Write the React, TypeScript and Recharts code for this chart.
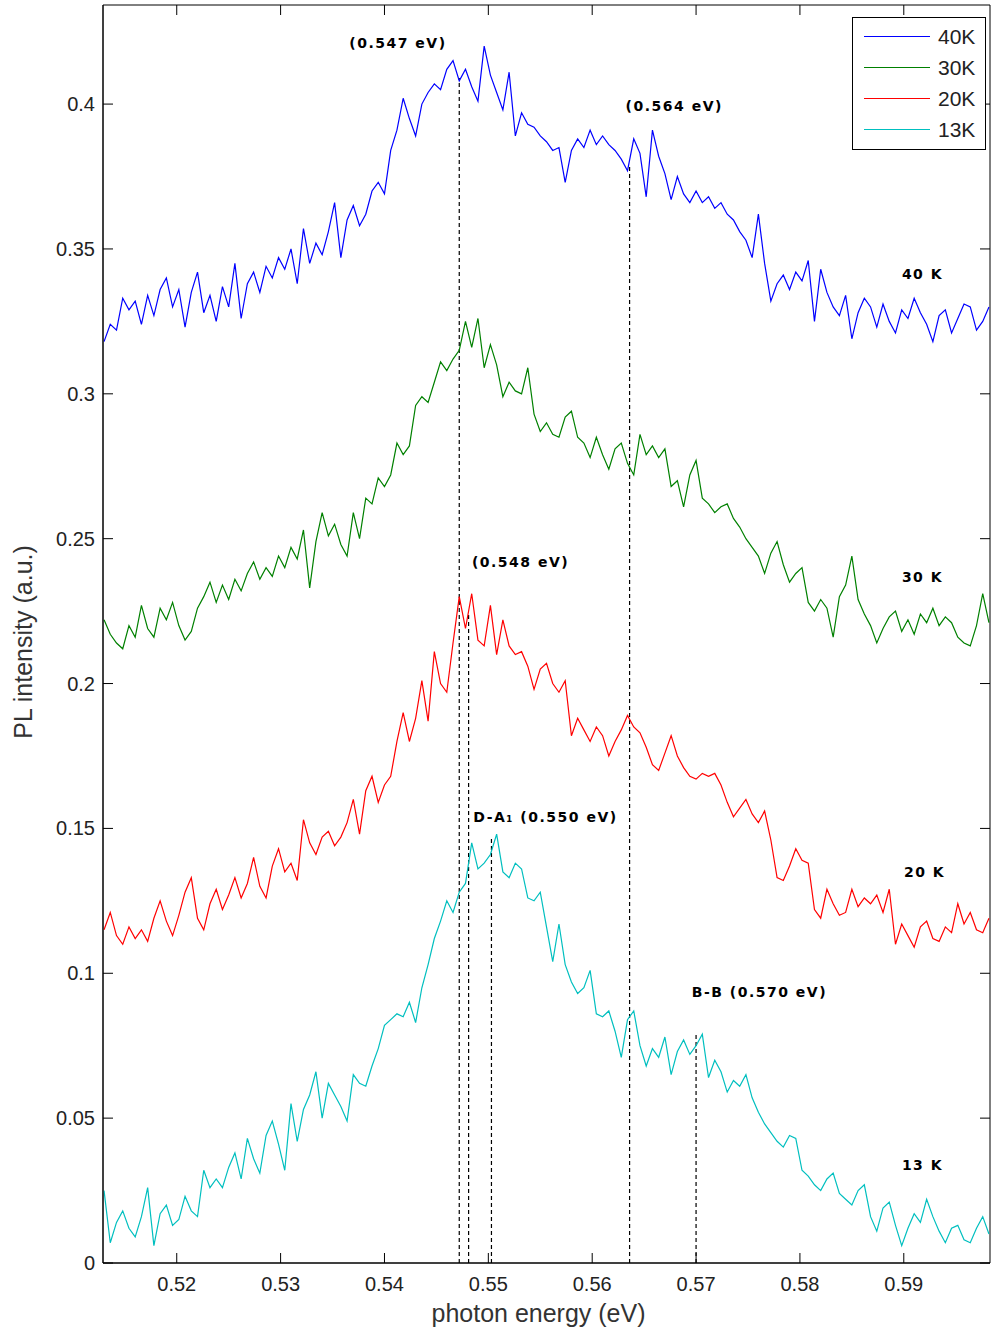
import React from 'react';
import { LineChart, Line, XAxis, YAxis, ReferenceLine, ReferenceArea, ReferenceDot, Legend, Label } from 'recharts';

// photon energy grid (eV)
const ENERGY = [
  0.5130, 0.5136, 0.5142, 0.5148, 0.5154, 0.5160, 0.5166, 0.5172, 0.5178, 0.5184,
  0.5190, 0.5196, 0.5202, 0.5208, 0.5214, 0.5220, 0.5226, 0.5232, 0.5238, 0.5244,
  0.5250, 0.5256, 0.5262, 0.5268, 0.5274, 0.5280, 0.5286, 0.5292, 0.5298, 0.5304,
  0.5310, 0.5316, 0.5322, 0.5328, 0.5334, 0.5340, 0.5346, 0.5352, 0.5358, 0.5364,
  0.5370, 0.5376, 0.5382, 0.5388, 0.5394, 0.5400, 0.5406, 0.5412, 0.5418, 0.5424,
  0.5430, 0.5436, 0.5442, 0.5448, 0.5454, 0.5460, 0.5466, 0.5472, 0.5478, 0.5484,
  0.5490, 0.5496, 0.5502, 0.5508, 0.5514, 0.5520, 0.5526, 0.5532, 0.5538, 0.5544,
  0.5550, 0.5556, 0.5562, 0.5568, 0.5574, 0.5580, 0.5586, 0.5592, 0.5598, 0.5604,
  0.5610, 0.5616, 0.5622, 0.5628, 0.5634, 0.5640, 0.5646, 0.5652, 0.5658, 0.5664,
  0.5670, 0.5676, 0.5682, 0.5688, 0.5694, 0.5700, 0.5706, 0.5712, 0.5718, 0.5724,
  0.5730, 0.5736, 0.5742, 0.5748, 0.5754, 0.5760, 0.5766, 0.5772, 0.5778, 0.5784,
  0.5790, 0.5796, 0.5802, 0.5808, 0.5814, 0.5820, 0.5826, 0.5832, 0.5838, 0.5844,
  0.5850, 0.5856, 0.5862, 0.5868, 0.5874, 0.5880, 0.5886, 0.5892, 0.5898, 0.5904,
  0.5910, 0.5916, 0.5922, 0.5928, 0.5934, 0.5940, 0.5946, 0.5952, 0.5958, 0.5964,
  0.5970, 0.5976, 0.5982,
];

const PL_40K = [
  0.318, 0.324, 0.322, 0.333, 0.329, 0.332, 0.324, 0.334, 0.327, 0.336,
  0.340, 0.330, 0.336, 0.323, 0.335, 0.342, 0.328, 0.334, 0.325, 0.337,
  0.330, 0.345, 0.326, 0.338, 0.342, 0.335, 0.344, 0.340, 0.347, 0.343,
  0.350, 0.338, 0.357, 0.345, 0.352, 0.348, 0.356, 0.366, 0.347, 0.360,
  0.365, 0.358, 0.362, 0.370, 0.373, 0.369, 0.384, 0.391, 0.402, 0.395,
  0.389, 0.400, 0.404, 0.407, 0.405, 0.412, 0.415, 0.408, 0.412, 0.406,
  0.401, 0.420, 0.410, 0.404, 0.398, 0.411, 0.389, 0.397, 0.393, 0.392,
  0.389, 0.387, 0.384, 0.385, 0.373, 0.384, 0.388, 0.385, 0.391, 0.386,
  0.389, 0.386, 0.384, 0.381, 0.377, 0.388, 0.383, 0.368, 0.391, 0.382,
  0.376, 0.367, 0.375, 0.369, 0.366, 0.370, 0.366, 0.368, 0.364, 0.366,
  0.362, 0.360, 0.356, 0.353, 0.347, 0.362, 0.345, 0.332, 0.338, 0.341,
  0.336, 0.342, 0.339, 0.346, 0.325, 0.343, 0.335, 0.330, 0.327, 0.334,
  0.319, 0.328, 0.333, 0.330, 0.323, 0.331, 0.325, 0.321, 0.329, 0.326,
  0.333, 0.328, 0.324, 0.318, 0.327, 0.329, 0.321, 0.326, 0.331, 0.330,
  0.322, 0.325, 0.330,
];

const PL_30K = [
  0.222, 0.217, 0.214, 0.212, 0.220, 0.216, 0.227, 0.219, 0.216, 0.226,
  0.222, 0.228, 0.220, 0.215, 0.218, 0.226, 0.230, 0.235, 0.228, 0.234,
  0.229, 0.236, 0.232, 0.238, 0.242, 0.236, 0.240, 0.237, 0.244, 0.240,
  0.247, 0.243, 0.253, 0.233, 0.249, 0.259, 0.251, 0.255, 0.248, 0.244,
  0.259, 0.250, 0.264, 0.262, 0.271, 0.268, 0.272, 0.283, 0.279, 0.282,
  0.296, 0.299, 0.297, 0.304, 0.311, 0.308, 0.312, 0.315, 0.325, 0.316,
  0.326, 0.309, 0.317, 0.310, 0.299, 0.304, 0.301, 0.300, 0.309, 0.293,
  0.287, 0.290, 0.286, 0.285, 0.292, 0.294, 0.285, 0.283, 0.278, 0.285,
  0.279, 0.274, 0.281, 0.283, 0.276, 0.272, 0.286, 0.279, 0.282, 0.278,
  0.281, 0.268, 0.270, 0.261, 0.272, 0.277, 0.264, 0.262, 0.259, 0.261,
  0.262, 0.257, 0.254, 0.250, 0.247, 0.244, 0.238, 0.245, 0.249, 0.241,
  0.235, 0.238, 0.240, 0.228, 0.225, 0.229, 0.226, 0.216, 0.230, 0.234,
  0.244, 0.229, 0.224, 0.220, 0.214, 0.219, 0.223, 0.225, 0.218, 0.222,
  0.217, 0.224, 0.221, 0.226, 0.220, 0.223, 0.221, 0.216, 0.214, 0.213,
  0.220, 0.231, 0.221,
];

const PL_20K = [
  0.115, 0.121, 0.113, 0.110, 0.116, 0.112, 0.115, 0.111, 0.119, 0.125,
  0.118, 0.113, 0.120, 0.128, 0.133, 0.119, 0.115, 0.124, 0.129, 0.122,
  0.127, 0.133, 0.126, 0.131, 0.140, 0.130, 0.126, 0.137, 0.143, 0.135,
  0.138, 0.132, 0.153, 0.145, 0.141, 0.147, 0.149, 0.144, 0.147, 0.152,
  0.160, 0.148, 0.163, 0.168, 0.159, 0.165, 0.168, 0.180, 0.190, 0.180,
  0.188, 0.201, 0.187, 0.211, 0.200, 0.197, 0.214, 0.230, 0.219, 0.231,
  0.215, 0.213, 0.227, 0.210, 0.222, 0.213, 0.210, 0.211, 0.206, 0.198,
  0.205, 0.207, 0.200, 0.197, 0.201, 0.182, 0.188, 0.184, 0.180, 0.185,
  0.182, 0.175, 0.180, 0.184, 0.189, 0.185, 0.183, 0.178, 0.172, 0.170,
  0.176, 0.182, 0.175, 0.171, 0.168, 0.167, 0.169, 0.168, 0.169, 0.165,
  0.159, 0.154, 0.157, 0.160, 0.155, 0.152, 0.156, 0.146, 0.133, 0.132,
  0.137, 0.143, 0.139, 0.138, 0.122, 0.119, 0.129, 0.124, 0.120, 0.121,
  0.129, 0.123, 0.126, 0.124, 0.127, 0.121, 0.129, 0.110, 0.117, 0.113,
  0.109, 0.116, 0.118, 0.112, 0.111, 0.116, 0.114, 0.124, 0.117, 0.121,
  0.115, 0.114, 0.119,
];

const PL_13K = [
  0.025, 0.007, 0.014, 0.018, 0.012, 0.009, 0.016, 0.026, 0.006, 0.017,
  0.020, 0.013, 0.015, 0.023, 0.018, 0.016, 0.032, 0.026, 0.029, 0.026,
  0.033, 0.038, 0.029, 0.043, 0.036, 0.031, 0.044, 0.049, 0.041, 0.032,
  0.055, 0.042, 0.053, 0.058, 0.066, 0.050, 0.062, 0.058, 0.054, 0.049,
  0.065, 0.062, 0.061, 0.068, 0.074, 0.082, 0.084, 0.086, 0.085, 0.090,
  0.083, 0.095, 0.103, 0.112, 0.118, 0.125, 0.121, 0.128, 0.131, 0.145,
  0.136, 0.138, 0.141, 0.148, 0.135, 0.133, 0.138, 0.136, 0.126, 0.125,
  0.128, 0.116, 0.104, 0.117, 0.103, 0.097, 0.093, 0.095, 0.101, 0.086,
  0.085, 0.087, 0.080, 0.071, 0.084, 0.087, 0.075, 0.068, 0.074, 0.071,
  0.078, 0.065, 0.073, 0.077, 0.072, 0.075, 0.079, 0.064, 0.070, 0.066,
  0.059, 0.063, 0.061, 0.065, 0.057, 0.052, 0.048, 0.045, 0.042, 0.040,
  0.044, 0.043, 0.032, 0.030, 0.027, 0.025, 0.029, 0.031, 0.024, 0.022,
  0.020, 0.025, 0.027, 0.016, 0.011, 0.019, 0.021, 0.013, 0.006, 0.012,
  0.017, 0.014, 0.022, 0.016, 0.011, 0.007, 0.012, 0.013, 0.008, 0.007,
  0.012, 0.016, 0.010,
];

const X_TICKS = [0.52, 0.53, 0.54, 0.55, 0.56, 0.57, 0.58, 0.59];
const Y_TICKS = [0, 0.05, 0.1, 0.15, 0.2, 0.25, 0.3, 0.35, 0.4];

const SERIES = [
  { key: 'k40', name: '40K', color: '#0000ff' },
  { key: 'k30', name: '30K', color: '#008000' },
  { key: 'k20', name: '20K', color: '#ff0000' },
  { key: 'k13', name: '13K', color: '#00bfbf' },
];

// dashed peak markers: energy and height where the line stops
const MARKERS = [
  { e: 0.5472, top: 0.409 },
  { e: 0.5481, top: 0.224 },
  { e: 0.5503, top: 0.147 },
  { e: 0.5636, top: 0.379 },
  { e: 0.5700, top: 0.079 },
];

const PEAK_LABELS = [
  { text: '(0.547 eV)', e: 0.5413, v: 0.421 },
  { text: '(0.564 eV)', e: 0.5679, v: 0.3993 },
  { text: '(0.548 eV)', e: 0.5531, v: 0.2421 },
  { text: 'D-A\u2081 (0.550 eV)', e: 0.5555, v: 0.1541 },
  { text: 'B-B (0.570 eV)', e: 0.5761, v: 0.0934 },
];

const TEMP_LABELS = [
  { text: '40 K', e: 0.5918, v: 0.3414 },
  { text: '30 K', e: 0.5918, v: 0.2369 },
  { text: '20 K', e: 0.5920, v: 0.1348 },
  { text: '13 K', e: 0.5918, v: 0.0338 },
];

const X_DOMAIN: [number, number] = [0.5129, 0.5983];
const Y_DOMAIN: [number, number] = [0, 0.4342];

const W = 991;
const H = 1332;
const MARGIN = { top: 5, right: 1, left: 0, bottom: 0 };
const PLOT_RIGHT = W - MARGIN.right;
const PLOT_TOP = MARGIN.top;

const data = ENERGY.map((e, i) => ({
  e,
  k40: PL_40K[i],
  k30: PL_30K[i],
  k20: PL_20K[i],
  k13: PL_13K[i],
}));

const AXIS_FONT = 'Liberation Sans, Arial, sans-serif';
const ANNO_FONT = 'DejaVu Sans, Verdana, sans-serif';

const YTick = (props: any) => {
  const { x, y, payload } = props;
  return (
    <g>
      <line x1={x} x2={x + 10} y1={y} y2={y} stroke="#000" />
      <line x1={PLOT_RIGHT - 10} x2={PLOT_RIGHT} y1={y} y2={y} stroke="#000" />
      <text x={x - 8} y={y + 7} textAnchor="end" fontSize={20} fontFamily={AXIS_FONT} fill="#222">
        {String(payload.value)}
      </text>
    </g>
  );
};

const XTick = (props: any) => {
  const { x, y, payload } = props;
  return (
    <g>
      <line x1={x} x2={x} y1={y} y2={y - 10} stroke="#000" />
      <line x1={x} x2={x} y1={PLOT_TOP} y2={PLOT_TOP + 10} stroke="#000" />
      <text x={x} y={y + 28} textAnchor="middle" fontSize={20} fontFamily={AXIS_FONT} fill="#222">
        {String(payload.value)}
      </text>
    </g>
  );
};

const annoShape = (text: string, size: number) => (p: any) => (
  <text
    x={p.cx}
    y={p.cy}
    textAnchor="middle"
    dominantBaseline="central"
    fontSize={size}
    fontWeight="bold"
    letterSpacing={1.5}
    fontFamily={ANNO_FONT}
    fill="#000"
  >
    {text}
  </text>
);

const LegendBox = () => (
  <div
    style={{
      width: 134,
      height: 133,
      boxSizing: 'border-box',
      border: '1px solid #000',
      background: '#fff',
      paddingTop: 3,
    }}
  >
    {SERIES.map((s) => (
      <div key={s.key} style={{ display: 'flex', alignItems: 'center', height: 31 }}>
        <span style={{ display: 'inline-block', width: 66, marginLeft: 11, borderTop: `1.5px solid ${s.color}` }} />
        <span style={{ marginLeft: 8, fontSize: 21, fontFamily: AXIS_FONT, color: '#222', lineHeight: '31px' }}>
          {s.name}
        </span>
      </div>
    ))}
  </div>
);

export default function App() {
  return (
    <div style={{ position: 'absolute', left: 0, top: 0, background: '#fff' }}>
      <LineChart width={W} height={H} data={data} margin={MARGIN}>
        <XAxis
          dataKey="e"
          type="number"
          domain={X_DOMAIN}
          allowDataOverflow
          ticks={X_TICKS}
          interval={0}
          tick={<XTick />}
          tickLine={false}
          tickSize={0}
          tickMargin={0}
          height={69}
          axisLine={{ stroke: '#000' }}
        >
          <Label
            content={(p: any) => {
              const vb = p.viewBox;
              return (
                <text
                  x={vb.x + vb.width / 2 - 8}
                  y={vb.y + 59}
                  textAnchor="middle"
                  fontSize={25}
                  fontFamily={AXIS_FONT}
                  fill="#333"
                >
                  photon energy (eV)
                </text>
              );
            }}
          />
        </XAxis>
        <YAxis
          type="number"
          domain={Y_DOMAIN}
          allowDataOverflow
          ticks={Y_TICKS}
          interval={0}
          tick={<YTick />}
          tickLine={false}
          tickSize={0}
          tickMargin={0}
          width={103}
          axisLine={{ stroke: '#000' }}
        >
          <Label
            content={(p: any) => {
              const vb = p.viewBox;
              const cy = vb.y + vb.height / 2 + 8;
              return (
                <text
                  transform={`translate(${vb.x + 32},${cy}) rotate(-90)`}
                  textAnchor="middle"
                  fontSize={25}
                  fontFamily={AXIS_FONT}
                  fill="#333"
                >
                  PL intensity (a.u.)
                </text>
              );
            }}
          />
        </YAxis>
        <ReferenceArea
          x1={X_DOMAIN[0]}
          x2={X_DOMAIN[1]}
          y1={Y_DOMAIN[0]}
          y2={Y_DOMAIN[1]}
          fill="none"
          fillOpacity={0}
          stroke="#000"
          strokeWidth={1}
        />
        {MARKERS.map((m) => (
          <ReferenceLine
            key={m.e}
            segment={[
              { x: m.e, y: 0 },
              { x: m.e, y: m.top },
            ]}
            stroke="#000"
            strokeWidth={1.2}
            strokeDasharray="4 3"
          />
        ))}
        {SERIES.map((s) => (
          <Line
            key={s.key}
            dataKey={s.key}
            name={s.name}
            type="linear"
            stroke={s.color}
            strokeWidth={1.2}
            dot={false}
            activeDot={false}
            isAnimationActive={false}
          />
        ))}
        {PEAK_LABELS.map((l) => (
          <ReferenceDot key={l.text} x={l.e} y={l.v} r={0} shape={annoShape(l.text, 14)} />
        ))}
        {TEMP_LABELS.map((l) => (
          <ReferenceDot key={l.text} x={l.e} y={l.v} r={0} shape={annoShape(l.text, 14)} />
        ))}
        <Legend
          layout="vertical"
          verticalAlign="middle"
          align="center"
          content={<LegendBox />}
          wrapperStyle={{ top: 17, left: 852, width: 134, height: 133 }}
        />
      </LineChart>
    </div>
  );
}
